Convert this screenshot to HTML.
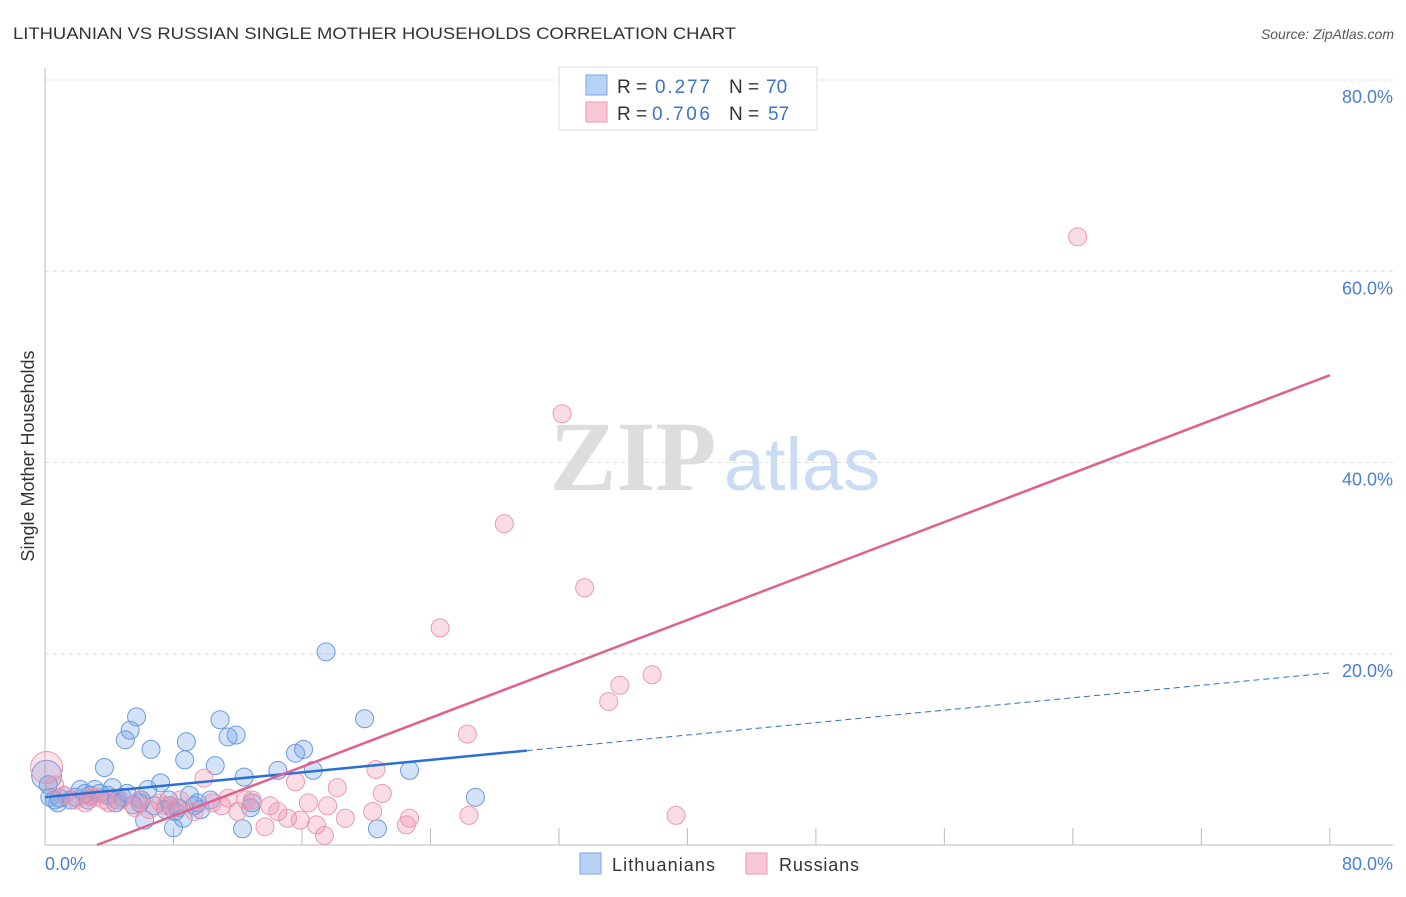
<!DOCTYPE html>
<html><head><meta charset="utf-8"><style>
body{margin:0;background:#fff;font-family:"Liberation Sans",sans-serif;}
svg text{font-family:"Liberation Sans",sans-serif;}
</style></head><body>
<svg id="chart" width="1406" height="892" xmlns="http://www.w3.org/2000/svg">
<text x="13" y="39" font-size="17" fill="#333" textLength="723" lengthAdjust="spacingAndGlyphs">LITHUANIAN VS RUSSIAN SINGLE MOTHER HOUSEHOLDS CORRELATION CHART</text>
<text x="1394" y="39" font-size="14" font-style="italic" fill="#555" text-anchor="end">Source: ZipAtlas.com</text>
<text transform="translate(34,456) rotate(-90)" font-size="18" fill="#333" text-anchor="middle">Single Mother Households</text>
<g>
<text x="633" y="490" font-size="100" fill="#ddd" font-family="Liberation Serif" font-weight="bold" text-anchor="middle" style="font-family:'Liberation Serif',serif">ZIP</text>
<text x="802" y="490" font-size="74" fill="#c9dcf3" text-anchor="middle">atlas</text>
</g>
<g id="grid"></g>
<g id="axes"></g>
<g id="points"></g>
<g id="lines"></g>
<g>
<rect x="559" y="67" width="258" height="63" fill="#fff" stroke="#ddd"/>
<rect x="586" y="75" width="21" height="20" fill="#b8d2f5" stroke="#7aa7e6"/>
<text x="617" y="93" font-size="19" fill="#333">R =</text>
<text x="655" y="93" font-size="19" fill="#3a74cf" textLength="55">0.277</text>
<text x="729" y="93" font-size="19" fill="#333">N =</text>
<text x="766" y="93" font-size="19" fill="#3a74cf">70</text>
<rect x="586" y="102" width="21" height="20" fill="#f9c6d6" stroke="#ea9ab5"/>
<text x="617" y="120" font-size="19" fill="#333">R =</text>
<text x="652" y="120" font-size="19" fill="#3a74cf" textLength="58">0.706</text>
<text x="729" y="120" font-size="19" fill="#333">N =</text>
<text x="768" y="120" font-size="19" fill="#3a74cf">57</text>
</g>
<g>
<rect x="580" y="853" width="21" height="21" fill="#b8d2f5" stroke="#7aa7e6"/>
<text x="612" y="871" font-size="18" fill="#333" textLength="103">Lithuanians</text>
<rect x="746" y="853" width="21" height="21" fill="#f9c6d6" stroke="#ea9ab5"/>
<text x="779" y="871" font-size="18" fill="#333" textLength="80">Russians</text>
</g>
</svg>
<script>
const yTicks=[20,40,60,80];
const yTickLabels=["20.0%","40.0%","60.0%","80.0%"];
const xTicks=[8,16,24,32,40,48,56,64,72,80];
const blueX=[0.3,0.6,0.9,1.2,1.6,1.9,2.2,2.5,2.8,3.1,3.4,3.7,3.9,4.2,4.5,4.8,5.0,5.3,5.7,5.9,6.2,6.4,6.6,6.8,7.2,7.5,7.8,8.0,8.3,8.6,8.7,8.8,9.0,9.3,9.5,10.6,10.9,11.4,11.9,12.3,12.4,12.8,12.9,14.5,15.6,16.1,16.7,17.5,19.9,20.7,22.7,26.8,5.5,6.0,8.1,9.7,10.3,0.8,2.7,4.4,5.1,7.7,0.2];
const blueY=[5.0,4.7,4.9,5.2,4.7,5.0,5.8,5.4,5.2,5.8,5.4,8.1,5.2,6.0,4.7,5.0,11.0,12.0,13.4,4.4,2.6,5.8,10.0,4.1,6.5,3.7,4.1,1.8,3.9,2.8,8.9,10.8,5.2,4.1,4.4,8.3,13.1,11.3,11.5,1.7,7.1,3.9,4.4,7.8,9.6,10.0,7.8,20.2,13.2,1.7,7.8,5.0,4.2,4.7,3.5,3.7,4.7,4.4,4.7,4.4,5.4,4.7,6.3];
const pinkX=[0.6,1.2,1.9,2.5,3.1,4.0,4.7,5.6,6.5,7.5,8.4,9.3,9.9,10.4,11.0,11.4,12.0,12.9,13.7,14.0,14.5,15.1,15.6,15.9,16.4,16.9,17.4,17.6,18.2,18.7,20.4,20.6,21.0,22.5,22.7,24.6,26.4,26.3,28.6,32.2,33.6,35.1,35.8,37.8,39.3,64.3,5.9,7.2,3.7,2.8,8.1,12.5];
const pinkY=[6.3,5.2,4.7,4.4,5.0,4.4,4.7,3.9,3.7,4.1,4.7,3.5,7.0,4.4,4.1,4.9,3.5,4.7,1.9,4.1,3.5,2.8,6.6,2.6,4.4,2.1,1.0,4.1,6.0,2.8,3.5,7.9,5.4,2.1,2.8,22.7,3.1,11.6,33.6,45.1,26.9,15.0,16.7,17.8,3.1,63.6,4.7,4.4,4.7,5.0,3.9,4.7];
const blueFit=[5.0,0.1625];
const pinkFit=[-2.07,0.64];
const NS="http://www.w3.org/2000/svg";
const X=v=>45+v*16.06, Y=v=>845-v*9.5625;
function mk(p,t,a){const e=document.createElementNS(NS,t);for(const k in a)e.setAttribute(k,a[k]);p.appendChild(e);return e;}
const grid=document.getElementById('grid'),axes=document.getElementById('axes'),pts=document.getElementById('points'),lines=document.getElementById('lines');
yTicks.forEach((t,i)=>{
 const l=mk(grid,'line',{x1:45,x2:1393,y1:Y(t),y2:Y(t),stroke:'#ddd','stroke-dasharray':'4,4'});
 
 
 const tx=mk(grid,'text',{x:1393,y:Y(t)+23,'font-size':18,fill:'#4a7fd0','text-anchor':'end'});
 tx.textContent=yTickLabels[i];
 
 
});
const ya=mk(axes,'line',{x1:45,x2:45,y1:68,y2:845,stroke:'#bbb'});


const xa=mk(axes,'line',{x1:45,x2:1393,y1:845,y2:845,stroke:'#bbb'});


xTicks.forEach(t=>{const l=mk(axes,'line',{x1:X(t),x2:X(t),y1:828,y2:845,stroke:'#bbb'});
 
 });
const x0=mk(axes,'text',{x:45,y:870,'font-size':18,fill:'#4a7fd0'});x0.textContent='0.0%';


const x1=mk(axes,'text',{x:1393,y:870,'font-size':18,fill:'#4a7fd0','text-anchor':'end'});x1.textContent='80.0%';


let b=mk(pts,'circle',{cx:X(0.1),cy:Y(7.3),r:15,fill:'rgba(110,160,230,0.3)',stroke:'#6a9be0'});


b=mk(pts,'circle',{cx:X(0.1),cy:Y(8.1),r:16,fill:'rgba(240,140,170,0.25)',stroke:'#eb9ab5'});


blueX.forEach((x,i)=>{const c=mk(pts,'circle',{cx:X(x),cy:Y(blueY[i]),r:9,fill:'rgba(110,160,230,0.3)',stroke:'#6a9be0'});
 
 });
pinkX.forEach((x,i)=>{const c=mk(pts,'circle',{cx:X(x),cy:Y(pinkY[i]),r:9,fill:'rgba(240,140,170,0.3)',stroke:'#eb9ab5'});
 
 });
const bl=mk(lines,'line',{x1:X(0),y1:Y(blueFit[0]),x2:X(30),y2:Y(blueFit[0]+blueFit[1]*30),stroke:'#2a6fd6','stroke-width':2.5});


const bd=mk(lines,'line',{x1:X(30),y1:Y(blueFit[0]+blueFit[1]*30),x2:X(80),y2:Y(blueFit[0]+blueFit[1]*80),stroke:'#2a6fd6','stroke-width':1,'stroke-dasharray':'6,4'});


const xs=-pinkFit[0]/pinkFit[1];
const pl=mk(lines,'line',{x1:X(xs),y1:Y(0),x2:X(80),y2:Y(pinkFit[0]+pinkFit[1]*80),stroke:'#e0608f','stroke-width':2.5});


</script>
</body></html>
